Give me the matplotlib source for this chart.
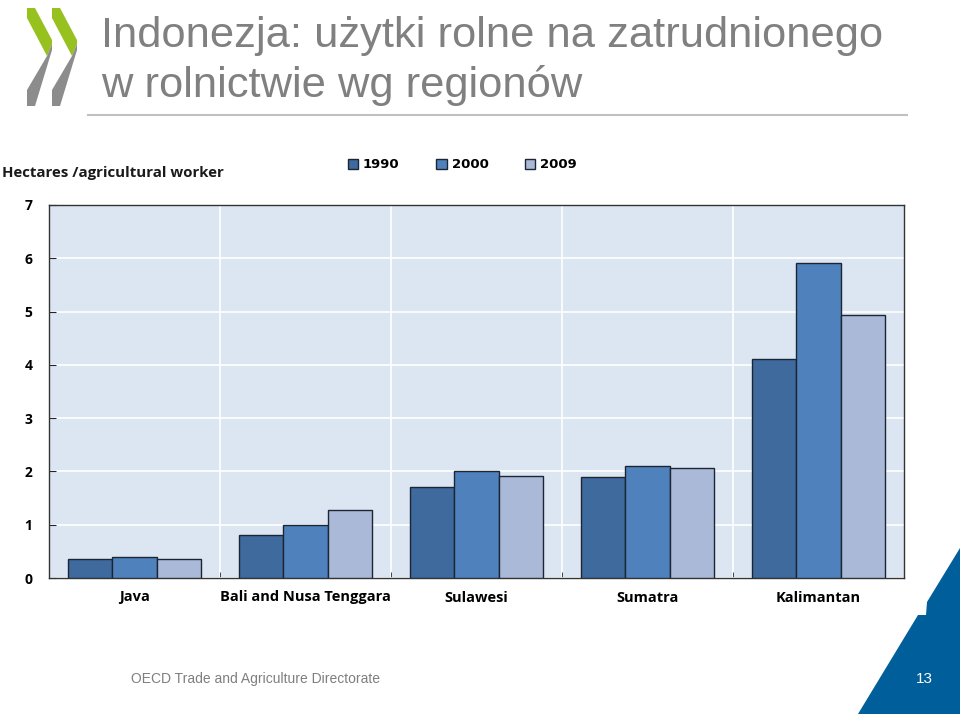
import numpy as np
import matplotlib.pyplot as plt
from matplotlib.patches import Polygon

regions = ['Java', 'Bali and Nusa Tenggara', 'Sulawesi', 'Sumatra', 'Kalimantan']
years = ['1990', '2000', '2009']
v1990 = [0.36, 0.81, 1.71, 1.89, 4.11]
v2000 = [0.39, 0.99, 2.01, 2.10, 5.91]
v2009 = [0.36, 1.28, 1.91, 2.06, 4.93]
yticks = [0, 1, 2, 3, 4, 5, 6, 7]

colors = ['#3f6a9e', '#4f81bd', '#aab9d8']
edge = '#1c2533'
lab_font = 'Open Sans'

fig = plt.figure(figsize=(9.6, 7.14), dpi=100)
W, H = 960, 714


def fx(x):
    return x / W


def fy(y):
    return 1 - y / H


def poly(pts, color):
    fig.add_artist(Polygon([(fx(a), fy(b)) for a, b in pts], closed=True,
                           facecolor=color, edgecolor='none'))


ax = fig.add_axes([fx(49), fy(578), fx(904) - fx(49), fy(205) - fy(578)])
ax.set_facecolor('#dce6f2')

x = np.arange(len(regions))
w = 0.26
bars = []
for i, vals in enumerate([v1990, v2000, v2009]):
    b = ax.bar(x + (i - 1) * w, vals, w, color=colors[i], edgecolor=edge,
               linewidth=1, label=years[i], zorder=3)
    bars.append(b)

ax.set_xlim(-0.5, len(regions) - 0.5)
ax.set_ylim(0, 7)
ax.set_yticks(yticks)
ax.set_yticklabels([str(t) for t in yticks], fontfamily=lab_font,
                   fontweight='bold', fontsize=10)
ax.set_xticks(x)
ax.set_xticklabels(regions, fontfamily=lab_font, fontweight='bold', fontsize=10.5)
ax.set_xticks(x[:-1] + 0.5, minor=True)
ax.tick_params(axis='x', which='major', length=0, pad=9)
ax.tick_params(axis='x', which='minor', direction='in', length=4, color=edge)
ax.tick_params(axis='y', direction='in', length=5, color=edge, pad=12)
ax.grid(axis='y', which='major', color='white', linewidth=1.2, zorder=0)
ax.grid(axis='x', which='minor', color='white', linewidth=1.2, zorder=0)
ax.set_axisbelow(True)
for s in ax.spines.values():
    s.set_color('#333333')
    s.set_linewidth(1)

fig.text(fx(2), fy(173), 'Hectares /agricultural worker', fontfamily=lab_font,
         fontweight='bold', fontsize=10.8, va='center', ha='left', color='#1a1a1a')

fig.legend(handles=bars, labels=years, loc='center left',
           bbox_to_anchor=(fx(336), fy(165)), ncol=3, frameon=False,
           prop={'family': 'DejaVu Sans', 'weight': 'bold', 'size': 9.5},
           handlelength=0.76, handleheight=0.76, handletextpad=0.38,
           columnspacing=2.8)

# title
fig.text(fx(101), fy(47), 'Indonezja: użytki rolne na zatrudnionego',
         fontfamily='Liberation Sans', fontsize=31.3, color='#808080',
         va='baseline', ha='left')
fig.text(fx(101), fy(97), 'w rolnictwie wg regionów',
         fontfamily='Liberation Sans', fontsize=31.3, color='#808080',
         va='baseline', ha='left')
fig.add_artist(plt.Line2D([fx(88), fx(907)], [fy(115), fy(115)],
                          color='#c0c0c0', linewidth=1.5))

# logo chevrons
for off in [0, 25]:
    green = [(27, 8), (35, 8), (52, 40), (52, 44), (47, 56), (27, 18)]
    gray = [(47, 56), (52, 44), (52, 50), (35, 106), (27, 106), (27, 90)]
    poly([(a + off, b) for a, b in green], '#96c11f')
    poly([(a + off, b) for a, b in gray], '#8c8c8c')

# footer
poly([(960, 548), (927, 602), (926, 615), (918, 615), (858, 714), (960, 714)],
     '#005f9a')
fig.text(fx(924), fy(679), '13', fontfamily='Liberation Sans', fontsize=11,
         color='white', ha='center', va='center')
fig.text(fx(131), fy(679), 'OECD Trade and Agriculture Directorate',
         fontfamily='Liberation Sans', fontsize=10, color='#7f7f7f',
         ha='left', va='center')

fig.savefig('out.png', dpi=100)
